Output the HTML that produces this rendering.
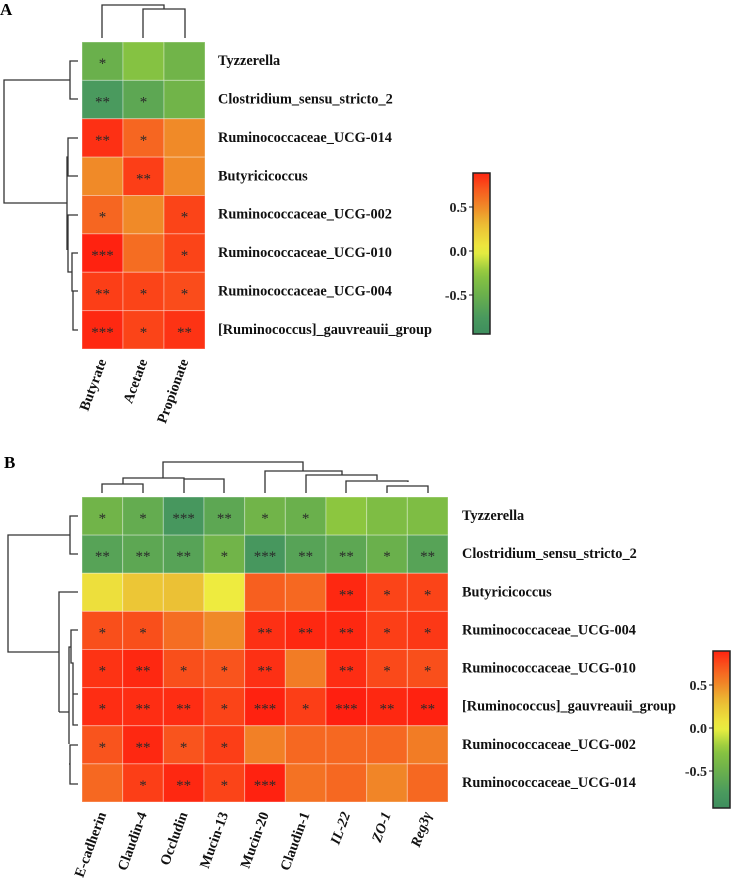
<!DOCTYPE html>
<html><head><meta charset="utf-8"><style>
html,body{margin:0;padding:0;background:#fff;}
svg{display:block;}
text{font-family:"Liberation Serif","DejaVu Serif",serif;}
</style></head><body>
<svg id="fig" width="731" height="880" viewBox="0 0 731 880" font-family="'Liberation Serif', 'DejaVu Serif', serif">
<text x="0" y="15" font-size="17" font-weight="bold" font-family="'Liberation Serif', serif">A</text>
<text x="4" y="468" font-size="17" font-weight="bold" font-family="'Liberation Serif', serif">B</text>
</svg>
<script>
// ---------- Panel A data ----------
const rowsA = ["Tyzzerella","Clostridium_sensu_stricto_2","Ruminococcaceae_UCG-014","Butyricicoccus","Ruminococcaceae_UCG-002","Ruminococcaceae_UCG-010","Ruminococcaceae_UCG-004","[Ruminococcus]_gauvreauii_group"];
const colsA = ["Butyrate","Acetate","Propionate"];
const valuesA = [
 [-0.5,-0.3,-0.45],
 [-0.75,-0.6,-0.45],
 [0.85,0.65,0.5],
 [0.5,0.8,0.5],
 [0.65,0.5,0.78],
 [0.9,0.62,0.78],
 [0.8,0.78,0.75],
 [0.88,0.78,0.84]
];
const starsA = [
 ["*","",""],["**","*",""],["**","*",""],["","**",""],
 ["*","","*"],["***","","*"],["**","*","*"],["***","*","**"]
];
// ---------- Panel B data ----------
const rowsB = ["Tyzzerella","Clostridium_sensu_stricto_2","Butyricicoccus","Ruminococcaceae_UCG-004","Ruminococcaceae_UCG-010","[Ruminococcus]_gauvreauii_group","Ruminococcaceae_UCG-002","Ruminococcaceae_UCG-014"];
const colsB = ["E-cadherin","Claudin-4","Occludin","Mucin-13","Mucin-20","Claudin-1","IL-22","ZO-1","Reg3γ"];
const italicB = [false,false,false,false,false,false,true,true,true];
const valuesB = [
 [-0.45,-0.55,-0.8,-0.6,-0.45,-0.5,-0.25,-0.35,-0.35],
 [-0.65,-0.6,-0.65,-0.45,-0.8,-0.65,-0.6,-0.5,-0.65],
 [0.1,0.25,0.28,0.03,0.68,0.64,0.88,0.78,0.78],
 [0.74,0.74,0.62,0.5,0.85,0.88,0.88,0.8,0.82],
 [0.84,0.88,0.74,0.72,0.85,0.56,0.86,0.76,0.74],
 [0.86,0.86,0.86,0.78,0.9,0.8,0.92,0.88,0.9],
 [0.72,0.88,0.72,0.8,0.54,0.64,0.64,0.64,0.56],
 [0.64,0.8,0.88,0.78,0.9,0.6,0.64,0.52,0.64]
];
const starsB = [
 ["*","*","***","**","*","*","","",""],
 ["**","**","**","*","***","**","**","*","**"],
 ["","","","","","","**","*","*"],
 ["*","*","","","**","**","**","*","*"],
 ["*","**","*","*","**","","**","*","*"],
 ["*","**","**","*","***","*","***","**","**"],
 ["*","**","*","*","","","","",""],
 ["","*","**","*","***","","","",""]
];
const ticks = [0.5,0.0,-0.5];
const tickLabels = ["0.5","0.0","-0.5"];

const NS="http://www.w3.org/2000/svg";
const FONT="'Liberation Serif', 'DejaVu Serif', serif";
const svg=document.getElementById('fig');
function mk(tag,attrs,parent){const e=document.createElementNS(NS,tag);for(const k in attrs)e.setAttribute(k,attrs[k]);if(tag==='text')e.setAttribute('font-family',FONT);(parent||svg).appendChild(e);return e;}
const stops=[[-1,[58,138,94]],[-0.75,[74,154,94]],[-0.5,[106,176,76]],[-0.25,[140,198,63]],[0,[238,240,64]],[0.3,[235,190,52]],[0.5,[240,138,40]],[0.7,[248,90,30]],[0.9,[255,34,16]],[1,[255,20,16]]];
function color(v){
 for(let i=0;i<stops.length-1;i++){const a=stops[i],b=stops[i+1];
  if(v<=b[0]||i==stops.length-2){const t=Math.max(0,Math.min(1,(v-a[0])/(b[0]-a[0])));
   const c=a[1].map((x,j)=>Math.round(x+(b[1][j]-x)*t));return `rgb(${c[0]},${c[1]},${c[2]})`;}}
}
function heat(p,vals,stars,rows,cols,ital){
 const g=mk('g',{});
 
 
 const cw=(p.x1-p.x0)/cols.length, rh=(p.y1-p.y0)/rows.length;
 const xs=j=>p.x0+j*cw, ys=i=>p.y0+i*rh;
 vals.forEach((row,i)=>row.forEach((v,j)=>{
  const r=mk('rect',{x:xs(j),y:ys(i),width:cw,height:rh,fill:color(v),stroke:'rgba(255,255,255,0.35)','stroke-width':1},g);
  
  
  if(stars[i][j]){const t=mk('text',{x:xs(j)+cw/2,y:ys(i)+rh/2+7,'text-anchor':'middle','font-size':15,fill:'#2a2a2a'},g);t.textContent=stars[i][j];
   
   }
 }));
 rows.forEach((n,i)=>{const t=mk('text',{x:p.lx,y:ys(i)+rh/2+4,'font-size':14.3,'font-weight':'bold',fill:'#111'});t.textContent=n;
  
  });
 cols.forEach((n,j)=>{const cx=xs(j)+cw/2+4, cy=p.y1+12;
  const t=mk('text',{x:cx,y:cy,'text-anchor':'end','font-size':14.3,'font-weight':'bold',fill:'#111',transform:`rotate(-70 ${cx} ${cy})`,'font-style':(ital&&ital[j])?'italic':'normal'});t.textContent=n;
  
  });
}
heat({name:'panel-a',x0:82,x1:205,y0:42,y1:349,lx:218},valuesA,starsA,rowsA,colsA,null);
heat({name:'panel-b',x0:82,x1:448,y0:497,y1:802,lx:462},valuesB,starsB,rowsB,colsB,italicB);

function lines(d,name){const p=mk('path',{d:d,fill:'none',stroke:'#333','stroke-width':1.3});}
// dendrograms A
lines("M102 38V5H164V9 M143 38V9H185V38","panel-a-column-dendrogram");
lines("M78 61V61H70V99H78 M70 80H4V203H67 M78 138H68V176H78 M68 157H67V224 M67 203H67 M78 215H68V247 M78 253H72V291H78 M78 291H73V330H78 M72 272H68V233 M67 157V250","panel-a-row-dendrogram");
// dendrograms B
lines("M102 493V484H143V493 M123 484V478H184V479 M184 493V479H224V493 M163 478V462H303V471 M265 493V471H342V475 M306 493V475H377V480 M346 493V481H408V482 M387 493V486H428V493","panel-b-column-dendrogram");
lines("M78 516H70V554H78 M70 535H8V652H59 M78 592H59V712 M59 712H69 M78 630H71V663H73V725H78 M73 694H78 M71 647H69V744 M78 745H70V784H78 M69 764H70","panel-b-row-dendrogram");

// colorbars
function cbar(x,y0,y1,zero,scale,name){
 const gid='grad-'+name;
 const defs=mk('defs',{});const lg=mk('linearGradient',{id:gid,x1:0,y1:0,x2:0,y2:1},defs);
 const vt=(zero-y0)/scale, vb=-(y1-zero)/scale;
 for(let k=0;k<=20;k++){const v=vt+(vb-vt)*k/20;mk('stop',{offset:k/20,'stop-color':color(v)},lg);}
 const r=mk('rect',{x:x,y:y0,width:17,height:y1-y0,fill:`url(#${gid})`,stroke:'#222','stroke-width':1.5});
 
 
 ticks.forEach((v,k)=>{const ty=zero-v*scale;
  mk('line',{x1:x-4,x2:x,y1:ty,y2:ty,stroke:'#222','stroke-width':1});
  const t=mk('text',{x:x-6,y:ty+5,'text-anchor':'end','font-size':14,'font-weight':'bold',fill:'#222'});t.textContent=tickLabels[k];
  
  });
}
cbar(473,173,334,251,88,'panel-a');
cbar(713,651,808,728,86,'panel-b');
</script>
</body></html>
